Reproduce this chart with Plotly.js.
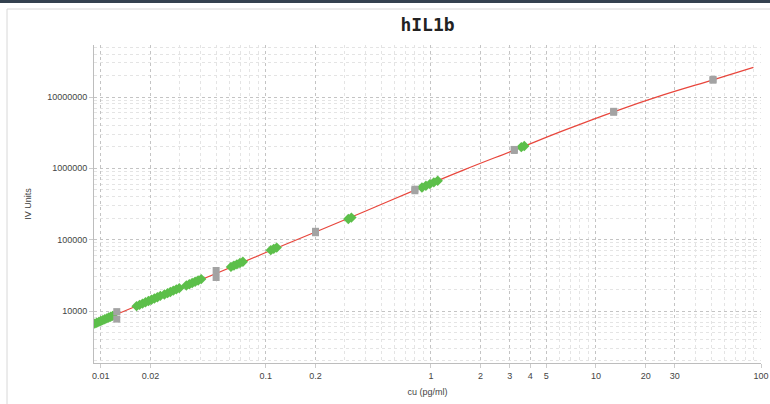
<!DOCTYPE html>
<html>
<head>
<meta charset="utf-8">
<script src="https://cdn.plot.ly/plotly-3.0.1.min.js"></script>
<style>html,body{margin:0;padding:0;background:#fff;}#chart{width:770px;height:404px;}</style>
</head>
<body>
<div id="chart"></div>
<script>
// Fitted standard curve
const curveX = [0.0091, 0.0125, 0.025, 0.05, 0.1, 0.2, 0.4, 0.8, 1.6, 3.2, 6.4, 12.8, 25.6, 51.2, 90];
const curveY = [6600, 9000, 17500, 33500, 66000, 128000, 250000, 495000, 960000, 1800000, 3400000, 6200000, 10700000, 17400000, 26000000];

// Standards (gray squares, replicates)
const stdX = [0.0125, 0.0125, 0.05, 0.05, 0.2, 0.2, 0.8, 0.8, 3.2, 3.2, 12.8, 12.8, 51.2, 51.2];
const stdY = [9800, 7700, 37000, 29500, 131000, 125000, 510000, 485000, 1840000, 1780000, 6300000, 6100000, 17700000, 17200000];

// Samples (green points)
const sampleX = [0.0092, 0.00946, 0.00973, 0.0100, 0.01028, 0.01057, 0.01087, 0.01117, 0.01148, 0.0118,
  0.01648, 0.01718, 0.0179, 0.01866, 0.01945, 0.02028, 0.02113, 0.02203, 0.02296,
  0.0243, 0.0254, 0.0264, 0.0275, 0.0287, 0.0299,
  0.0330, 0.0344, 0.0358, 0.0373, 0.0389, 0.0406,
  0.0615, 0.0641, 0.0668, 0.0697, 0.0726,
  0.1072, 0.1117, 0.1164,
  0.316, 0.330,
  0.883, 0.933, 0.986, 1.042, 1.10,
  3.53, 3.68];
const sampleY = [6660, 6850, 7040, 7240, 7440, 7650, 7870, 8090, 8310, 8540,
  11700, 12200, 12700, 13250, 13800, 14400, 15000, 15600, 16300,
  17000, 17800, 18500, 19300, 20100, 20900,
  22800, 23700, 24700, 25700, 26800, 28000,
  41500, 43300, 45100, 47000, 49000,
  71300, 74300, 77400,
  195000, 204000,
  539000, 569000, 601000, 636000, 671000,
  1980000, 2060000];

const xTickVals = [0.01, 0.02, 0.1, 0.2, 1, 2, 3, 4, 5, 10, 20, 30, 100];
const xTickText = ['0.01', '0.02', '0.1', '0.2', '1', '2', '3', '4', '5', '10', '20', '30', '100'];
const yTickVals = [10000, 100000, 1000000, 10000000];
const yTickText = ['10000', '100000', '1000000', '10000000'];

// minor grid positions: 1..9 within each decade
function minorVals(e0, e1) {
  const v = [];
  for (let e = e0; e <= e1; e++) for (let m = 1; m <= 9; m++) v.push(m * Math.pow(10, e));
  return v;
}

const traces = [
  {x: curveX, y: curveY, mode: 'lines', type: 'scatter', line: {color: '#e8463c', width: 1.2, shape: 'spline'}, hoverinfo: 'skip'},
  {x: sampleX, y: sampleY, mode: 'markers', type: 'scatter', marker: {symbol: 'diamond', color: '#5cbf4a', size: 8}},
  {x: stdX, y: stdY, mode: 'markers', type: 'scatter', marker: {symbol: 'square', color: '#a3a3a3', size: 7}}
];

const layout = {
  width: 770, height: 404,
  margin: {l: 94, r: 9, t: 45, b: 41},
  paper_bgcolor: '#ffffff', plot_bgcolor: '#ffffff',
  showlegend: false,
  font: {family: 'Liberation Sans, Arial, sans-serif', size: 9, color: '#444'},
  title: {text: '<b>hIL1b</b>', x: 0.5, xref: 'paper', xanchor: 'center', y: 0.94, yanchor: 'middle',
          font: {family: 'DejaVu Sans Mono', size: 18, color: '#222'}},
  xaxis: {
    type: 'log', range: [Math.log10(0.0091), 2.0],
    tickvals: xTickVals, ticktext: xTickText,
    ticklabeloverflow: 'allow',
    showgrid: true, gridcolor: '#c4c4c4', griddash: 'dot', gridwidth: 1,
    minor: {tickvals: minorVals(-3, 2), showgrid: true, gridcolor: '#e4e4e4', griddash: 'dot', gridwidth: 1, ticks: ''},
    showline: true, linecolor: '#bdbdbd', linewidth: 1,
    ticks: 'outside', ticklen: 4, tickcolor: '#cccccc',
    zeroline: false,
    tickfont: {size: 9, color: '#444'},
    title: {text: 'cu (pg/ml)', font: {size: 9, color: '#444'}, standoff: 8}
  },
  yaxis: {
    type: 'log', range: [3.271, 7.729],
    tickvals: yTickVals, ticktext: yTickText,
    showgrid: true, gridcolor: '#c4c4c4', griddash: 'dot', gridwidth: 1,
    minor: {tickvals: minorVals(3, 7), showgrid: true, gridcolor: '#e4e4e4', griddash: 'dot', gridwidth: 1, ticks: ''},
    showline: true, linecolor: '#bdbdbd', linewidth: 1,
    ticks: 'outside', ticklen: 4, tickcolor: '#cccccc',
    zeroline: false,
    tickfont: {size: 9, color: '#444'},
    title: {text: 'IV Units', font: {size: 9, color: '#444'}, standoff: 14}
  },
  shapes: [
    {type: 'rect', xref: 'paper', yref: 'paper', x0: (0 - 94) / 667, x1: (770 - 94) / 667, y0: (363 - 0) / 318, y1: (363 - 3) / 318,
     fillcolor: '#34414f', line: {width: 0}, layer: 'above'},
    {type: 'line', xref: 'paper', yref: 'paper', x0: (7 - 94) / 667, x1: (7 - 94) / 667, y0: (363 - 9) / 318, y1: (363 - 404) / 318,
     line: {color: '#d8d8d8', width: 1}},
    {type: 'line', xref: 'paper', yref: 'paper', x0: (7 - 94) / 667, x1: (770 - 94) / 667, y0: (363 - 9) / 318, y1: (363 - 9) / 318,
     line: {color: '#d8d8d8', width: 1}}
  ]
};

Plotly.newPlot('chart', traces, layout, {displayModeBar: false, staticPlot: true});
</script>
</body>
</html>
